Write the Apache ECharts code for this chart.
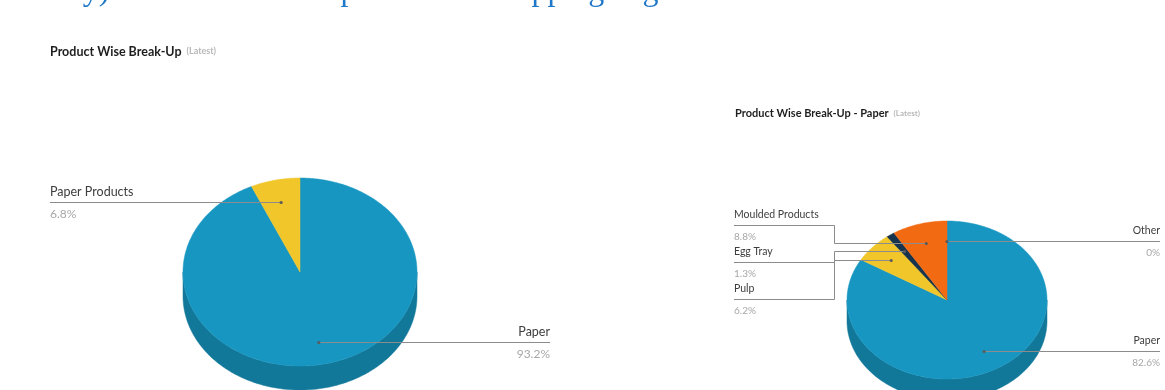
<!DOCTYPE html>
<html><head><meta charset="utf-8">
<script src="https://cdn.jsdelivr.net/npm/echarts@6/dist/echarts.min.js"></script>
<style>html,body{margin:0;padding:0;background:#fff;overflow:hidden}#c{width:1165px;height:390px}</style>
</head><body><div id="c"></div>
<script>
// ---- data ----
const leftTitle = 'Product Wise Break-Up';
const rightTitle = 'Product Wise Break-Up - Paper';
const subTitle = '(Latest)';
const leftCategories = ['Paper', 'Paper Products'];
const leftValues = [93.2, 6.8];
const rightCategories = ['Paper', 'Pulp', 'Egg Tray', 'Moulded Products', 'Other'];
const rightValues = [82.6, 6.2, 1.3, 8.8, 0];
const headerText = 'Industry) is the foremost top maker of shopping bag';

// ---- styles ----
const leftColors = ['#1796c1', '#f0c62b'];
const rightColors = ['#1796c1', '#f0c62b', '#17344c', '#f26b12', '#cccccc'];
const FONT = 'Lato, "Open Sans", sans-serif';

function shade(hex, k) {
  const n = parseInt(hex.slice(1), 16);
  const r = Math.round(((n >> 16) & 255) * k), g = Math.round(((n >> 8) & 255) * k), b = Math.round((n & 255) * k);
  return 'rgb(' + r + ',' + g + ',' + b + ')';
}

function buildPie(names, values, colors, geo, key) {
  const total = values.reduce((a, b) => a + b, 0);
  let acc = 0;
  const items = values.map((v, i) => {
    const s = acc / total * 360; acc += v; const e = acc / total * 360;
    return { name: names[i], value: v, color: colors[i], start: s, end: e, mid: (s + e) / 2 };
  });
  const P = (deg, sc, dy) => {
    const r = deg * Math.PI / 180;
    return [geo.cx + geo.rx * sc * Math.sin(r), geo.cy - geo.ry * sc * Math.cos(r) + (dy || 0)];
  };
  const arc = (a0, a1, dy) => {
    const pts = []; const n = Math.max(2, Math.ceil((a1 - a0) / 0.8));
    for (let k = 0; k <= n; k++) pts.push(P(a0 + (a1 - a0) * k / n, 1, dy));
    return pts;
  };
  // label layout
  items.forEach(it => {
    it.dot = P(it.mid, geo.anchor, 0);
    const m = ((it.mid % 360) + 360) % 360;
    it.side = m < 180 ? 'right' : 'left';
    it.ly = it.dot[1];
  });
  ['left', 'right'].forEach(side => {
    const group = items.filter(it => it.side === side).sort((a, b) => a.dot[1] - b.dot[1]);
    if (group.length < 2) return;
    const nat = group.map(it => it.dot[1]);
    const pos = nat.slice(); let moved = false;
    for (let i = 1; i < pos.length; i++) if (pos[i] < pos[i - 1] + geo.gap) { pos[i] = pos[i - 1] + geo.gap; moved = true; }
    if (moved) {
      const mean = a => a.reduce((x, y) => x + y, 0) / a.length;
      const sh = mean(nat) - mean(pos) + geo.shift;
      group.forEach((it, i) => it.ly = pos[i] + sh);
    }
  });

  const data = items.map((it, i) => ({ name: it.name, value: [it.value, i] }));
  const side = {
    type: 'custom', id: key + 'side', coordinateSystem: 'none', z: 1, silent: true, data,
    renderItem: (params, api) => {
      const it = items[api.value(1)];
      const a0 = Math.max(it.start, 90), a1 = Math.min(it.end, 270);
      if (a1 <= a0) return { type: 'group', children: [] };
      const pts = arc(a0, a1, 0).concat(arc(a0, a1, geo.depth).reverse());
      return { type: 'polygon', shape: { points: pts }, style: { fill: shade(it.color, 0.8), stroke: shade(it.color, 0.8), lineWidth: 0.5 } };
    }
  };
  const top = {
    type: 'custom', id: key + 'top', coordinateSystem: 'none', z: 2, silent: true, data,
    renderItem: (params, api) => {
      const it = items[api.value(1)];
      if (it.end - it.start <= 0) return { type: 'group', children: [] };
      const pts = [[geo.cx, geo.cy]].concat(arc(it.start, it.end, 0));
      return { type: 'polygon', shape: { points: pts }, style: { fill: it.color, stroke: it.color, lineWidth: 0.5 } };
    }
  };
  const labels = {
    type: 'custom', id: key + 'lab', coordinateSystem: 'none', z: 3, silent: true, data,
    renderItem: (params, api) => {
      const it = items[api.value(1)];
      const left = it.side === 'left';
      const lx = left ? geo.cx - geo.rx - geo.labelDist : geo.cx + geo.rx + geo.labelDist;
      const ly = Math.round(it.ly) + 0.5;
      const dy = Math.round(it.dot[1]) + 0.5;
      const bx = left ? lx + geo.bend : lx - geo.bend;
      const pts = Math.abs(ly - dy) < 1 ? [[lx, dy], [it.dot[0], dy]] : [[lx, ly], [bx + 0.5, ly], [bx + 0.5, dy], [it.dot[0], dy]];
      const al = left ? 'left' : 'right';
      return {
        type: 'group', children: [
          { type: 'polyline', shape: { points: pts }, style: { stroke: '#8c8c8c', lineWidth: 1, fill: null } },
          { type: 'circle', shape: { cx: it.dot[0], cy: dy, r: 1.6 }, style: { fill: '#5a5a5a' } },
          { type: 'text', x: lx, y: ly - geo.nameOff, style: { text: it.name, fill: '#3d3d3d', fontSize: geo.nameSize, fontFamily: FONT, align: al, textAlign: al, verticalAlign: 'middle', textVerticalAlign: 'middle' } },
          { type: 'text', x: lx, y: ly + geo.valOff, style: { text: it.value + '%', fill: '#a8a8a8', fontSize: geo.valSize, fontFamily: FONT, align: al, textAlign: al, verticalAlign: 'middle', textVerticalAlign: 'middle' } }
        ]
      };
    }
  };
  return [side, top, labels];
}

const geoLeft = { cx: 300, cy: 272, rx: 117, ry: 94, depth: 24, anchor: 0.76, labelDist: 133, bend: 100, gap: 37, shift: 7, nameOff: 11, valOff: 12, nameSize: 12.5, valSize: 12 };
const geoRight = { cx: 947, cy: 300, rx: 100, ry: 79, depth: 21, anchor: 0.75, labelDist: 113, bend: 100, gap: 37, shift: 10, nameOff: 10.5, valOff: 11.5, nameSize: 10.5, valSize: 10 };

const chart = echarts.init(document.getElementById('c'), null, { renderer: 'canvas' });
const titleRich = (sz, ssz) => ({
  a: { fontSize: sz, fontWeight: 'bold', color: '#1e1e1e', fontFamily: FONT },
  b: { fontSize: ssz, color: '#b8b8b8', fontFamily: FONT, padding: [0, 0, 0, 5] }
});
chart.setOption({
  animation: false,
  backgroundColor: '#ffffff',
  title: [
    { left: 45, top: 40, text: '{a|' + leftTitle + '}{b|' + subTitle + '}', textStyle: { rich: titleRich(12.5, 9) } },
    { left: 730, top: 103, text: '{a|' + rightTitle + '}{b|' + subTitle + '}', textStyle: { rich: titleRich(11, 8) } }
  ],
  graphic: [
    { type: 'text', x: -8, y: -24, style: { text: headerText, fill: '#1f78c8', fontSize: 32, fontFamily: '"Liberation Serif", serif' } }
  ],
  series: buildPie(leftCategories, leftValues, leftColors, geoLeft, 'L').concat(buildPie(rightCategories, rightValues, rightColors, geoRight, 'R'))
});
</script>
</body></html>
